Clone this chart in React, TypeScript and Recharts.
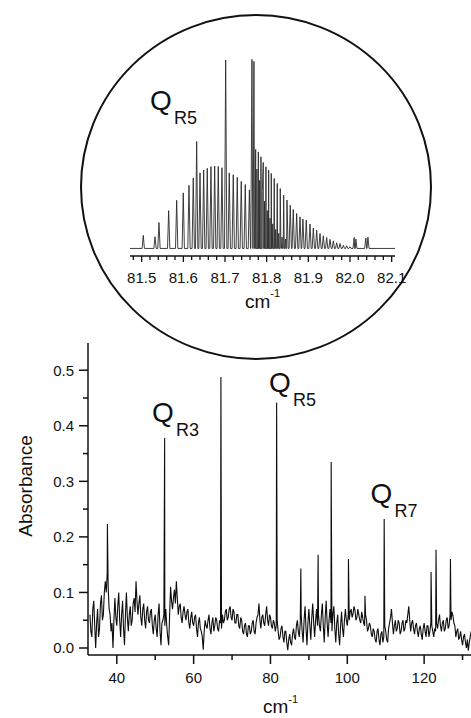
import React from 'react';
import { LineChart, Line, XAxis, YAxis } from 'recharts';

// ---------- Main spectrum (absorbance vs wavenumber) ----------
const mainNoiseStart = 33.0;
const mainNoiseStep = 0.5;
// values at 33.0, 33.5, 34.0, ...
const mainNoise = [
  0.06, 0.02, 0.085, 0.0, 0.07, 0.035, 0.095, 0.06, 0.12, 0.135,
  0.07, 0.03, 0.0, 0.09, 0.04, 0.1, 0.02, 0.085, 0.005, 0.1,
  0.03, 0.075, 0.05, 0.09, 0.12, 0.06, 0.095, 0.04, 0.08, 0.035,
  0.075, 0.045, 0.07, 0.025, 0.06, 0.02, 0.08, 0.005, 0.05, 0.04,
  0.04, 0.005, 0.11, 0.07, 0.105, 0.12, 0.06, 0.08, 0.045, 0.075,
  0.05, 0.07, 0.035, 0.065, 0.04, 0.06, 0.02, 0.055, 0.03, -0.003,
  0.05, 0.035, 0.06, 0.025, 0.055, 0.04, 0.05, 0.03, 0.045, 0.06,
  0.05, 0.07, 0.055, 0.075, 0.05, 0.065, 0.045, 0.06, 0.035, 0.05,
  0.025, 0.045, 0.02, 0.04, 0.03, 0.05, 0.025, 0.055, 0.08, 0.035,
  0.06, 0.04, 0.075, 0.04, 0.055, 0.035, 0.045, 0.04, 0.03, 0.02,
  0.04, 0.01, 0.03, -0.004, 0.025, 0.005, 0.035, 0.015, 0.05, 0.02,
  0.06, 0.01, 0.075, 0.005, 0.07, 0.015, 0.08, 0.02, 0.07, 0.06,
  0.03, 0.08, 0.01, 0.085, 0.02, 0.07, 0.03, 0.075, 0.01, 0.06,
  0.005, 0.065, 0.02, 0.07, 0.04, 0.05, 0.07, 0.062, 0.068, 0.055,
  0.06, 0.045, 0.055, 0.04, 0.05, 0.035, 0.04, 0.02, 0.03, 0.01,
  0.035, 0.005, 0.03, 0.02, 0.03, 0.01, 0.045, 0.07, 0.025, 0.05,
  0.035, 0.045, 0.03, 0.05, 0.035, 0.045, 0.075, 0.03, 0.05, 0.025,
  0.045, 0.02, 0.04, 0.015, 0.045, 0.02, 0.04, 0.03, 0.04, 0.02,
  0.03, 0.035, 0.06, 0.03, 0.05, 0.035, 0.055, 0.04, 0.05, 0.058,
  0.04, 0.03, 0.015, 0.03, 0.005, 0.025, 0.0, -0.005, 0.02, 0.025,
];
// values at 33.25, 33.75, 34.25, ...
const mainNoiseMidStart = 33.25;
const mainNoiseMid = [
  0.03, 0.07, 0.04, 0.045, 0.02, 0.08, 0.05, 0.1, 0.1, 0.11,
  0.06, 0.045, 0.05, 0.055, 0.075, 0.05, 0.06, 0.035, 0.06, 0.055,
  0.06, 0.04, 0.08, 0.065, 0.085, 0.08, 0.055, 0.07, 0.05, 0.065,
  0.05, 0.065, 0.04, 0.05, 0.035, 0.06, 0.03, 0.045, 0.06, 0.07,
  0.02, 0.06, 0.085, 0.09, 0.08, 0.09, 0.075, 0.055, 0.065, 0.06,
  0.065, 0.045, 0.055, 0.045, 0.055, 0.035, 0.045, 0.035, 0.02, 0.03,
  0.04, 0.05, 0.035, 0.045, 0.03, 0.055, 0.035, 0.05, 0.035, 0.045,
  0.065, 0.05, 0.07, 0.055, 0.07, 0.045, 0.06, 0.04, 0.055, 0.03,
  0.04, 0.025, 0.04, 0.025, 0.045, 0.03, 0.045, 0.06, 0.05, 0.055,
  0.045, 0.06, 0.05, 0.06, 0.04, 0.05, 0.03, 0.05, 0.015, 0.035,
  0.02, 0.03, 0.01, 0.015, 0.01, 0.025, 0.02, 0.04, 0.03, 0.045,
  0.03, 0.05, 0.035, 0.045, 0.04, 0.055, 0.045, 0.05, 0.04, 0.04,
  0.06, 0.04, 0.055, 0.045, 0.05, 0.045, 0.06, 0.035, 0.045, 0.025,
  0.04, 0.035, 0.05, 0.05, 0.06, 0.065, 0.055, 0.075, 0.05, 0.07,
  0.05, 0.065, 0.045, 0.06, 0.03, 0.045, 0.025, 0.035, 0.015, 0.03,
  0.015, 0.025, 0.01, 0.04, 0.015, 0.035, 0.055, 0.045, 0.04, 0.03,
  0.05, 0.025, 0.045, 0.03, 0.05, 0.06, 0.05, 0.045, 0.035, 0.04,
  0.03, 0.035, 0.025, 0.035, 0.03, 0.04, 0.02, 0.045, 0.03, 0.035,
  0.045, 0.05, 0.04, 0.045, 0.03, 0.05, 0.035, 0.06, 0.065, 0.045,
  0.02, 0.035, 0.02, 0.015, 0.02, 0.01, 0.015, 0.01, 0.03, 0.015,
];
const mainPeakX = [37.55, 52.45, 67.1, 81.6, 87.9, 92.4, 95.8, 100.3, 104.6, 109.6, 121.8, 123.1, 126.85];
const mainPeakY = [0.223, 0.378, 0.488, 0.442, 0.143, 0.168, 0.335, 0.16, 0.094, 0.232, 0.137, 0.177, 0.16];

const mainXMajor = [40, 60, 80, 100, 120];
const mainXTicks = [40, 50, 60, 70, 80, 90, 100, 110, 120, 130];
const mainYTicks = [0, 0.05, 0.1, 0.15, 0.2, 0.25, 0.3, 0.35, 0.4, 0.45, 0.5];
const mainXDomain = [32.5, 132.2];
const mainYDomain = [-0.0126, 0.549];

// ---------- Inset: Q_R5 band ----------
const insetPeakX = [
  81.5038, 81.532, 81.5415, 81.5648, 81.584, 81.5998, 81.6135, 81.6238, 81.632, 81.64,
  81.6488, 81.6574, 81.6663, 81.6752, 81.6838, 81.6927, 81.7016, 81.7102, 81.7198, 81.7294,
  81.739, 81.7486, 81.7585, 81.7647, 81.7695,
  81.7736, 81.78, 81.7863, 81.7918, 81.7983, 81.8048, 81.811, 81.8182, 81.8254, 81.8326,
  81.8408, 81.8487, 81.8566, 81.8638, 81.872, 81.88, 81.887, 81.895, 81.904, 81.912,
  81.92, 81.928, 81.936, 81.944, 81.952, 81.96, 81.968, 81.976, 81.984, 81.992, 82.0,
  82.01, 82.014, 82.038, 82.043,
];
const insetPeakH = [
  0.069, 0.062, 0.137, 0.2, 0.255, 0.294, 0.334, 0.373, 0.566, 0.4,
  0.415, 0.424, 0.433, 0.436, 0.434, 0.427, 0.997, 0.4, 0.39, 0.376,
  0.355, 0.338, 0.31, 1.0, 0.99,
  0.524, 0.511, 0.485, 0.455, 0.432, 0.414, 0.397, 0.37, 0.344, 0.317,
  0.282, 0.256, 0.229, 0.206, 0.185, 0.167, 0.155, 0.15, 0.129, 0.108,
  0.097, 0.079, 0.067, 0.058, 0.048, 0.04, 0.03, 0.026, 0.017, 0.014, 0.009,
  0.058, 0.05, 0.055, 0.06,
];
const insetComb2X = [81.7765, 81.7832, 81.7895, 81.795, 81.8015, 81.808, 81.8145, 81.8215, 81.829, 81.837, 81.845];
const insetComb2H = [0.42, 0.36, 0.3, 0.25, 0.2, 0.16, 0.13, 0.1, 0.08, 0.06, 0.05];
const insetHalfWidth = 0.0028;
const insetXMajor = [81.5, 81.6, 81.7, 81.8, 81.9, 82.0, 82.1];
const insetXDomain = [81.472, 82.108];
const insetYDomain = [-0.04, 1.05];

// ---------- build tables ----------
const mainData = (() => {
  const pts = mainNoise.map((v, i) => ({ x: mainNoiseStart + i * mainNoiseStep, y: v }));
  mainNoiseMid.forEach((v, i) => pts.push({ x: mainNoiseMidStart + i * mainNoiseStep, y: v }));
  mainPeakX.forEach((x, i) => pts.push({ x, y: mainPeakY[i] }));
  pts.sort((a, b) => a.x - b.x);
  return pts;
})();

const insetData = (() => {
  const pts: { x: number; y: number }[] = [];
  pts.push({ x: insetXDomain[0], y: 0 });
  const add = (xs: number[], hs: number[]) => {
    xs.forEach((x, i) => {
      pts.push({ x: x - insetHalfWidth, y: 0 });
      pts.push({ x, y: hs[i] });
      pts.push({ x: x + insetHalfWidth, y: 0 });
    });
  };
  add(insetPeakX, insetPeakH);
  add(insetComb2X, insetComb2H);
  pts.push({ x: insetXDomain[1], y: 0 });
  pts.sort((a, b) => a.x - b.x);
  return pts;
})();

const insetTicks = (() => {
  const t: number[] = [];
  for (let k = 0; k <= 31; k++) t.push(Math.round((81.48 + k * 0.02) * 100) / 100);
  return t;
})();

const FONT = '"Liberation Sans", Arial, Helvetica, sans-serif';
const INK = '#111';

const MainXTick = (props: any) => {
  const { x, y, payload } = props;
  const v = payload.value;
  const major = mainXMajor.includes(v);
  return (
    <g>
      <line x1={x} x2={x} y1={y} y2={y + (major ? 9 : 5)} stroke={INK} strokeWidth={1.5} />
      {major && (
        <text x={x} y={y + 28} textAnchor="middle" fontSize={15} fontFamily={FONT} fill={INK}>
          {v}
        </text>
      )}
    </g>
  );
};

const MainYTick = (props: any) => {
  const { x, y, payload } = props;
  const v = payload.value;
  const major = Math.abs(v * 10 - Math.round(v * 10)) < 1e-6;
  return (
    <g>
      <line x1={x - (major ? 9 : 5)} x2={x} y1={y} y2={y} stroke={INK} strokeWidth={1.5} />
      {major && (
        <text x={x - 14} y={y} dy="0.36em" textAnchor="end" fontSize={15} fontFamily={FONT} fill={INK}>
          {v.toFixed(1)}
        </text>
      )}
    </g>
  );
};

const InsetXTick = (props: any) => {
  const { x, y, payload } = props;
  const v = payload.value;
  const major = insetXMajor.some((m) => Math.abs(m - v) < 1e-6);
  return (
    <g>
      <line x1={x} x2={x} y1={y} y2={y + (major ? 6 : 4)} stroke={INK} strokeWidth={1.3} />
      {major && (
        <text x={x} y={y + 27} textAnchor="middle" fontSize={15} fontFamily={FONT} fill={INK}>
          {v.toFixed(1)}
        </text>
      )}
    </g>
  );
};

const QLabel = ({ x, y, sub }: { x: number; y: number; sub: string }) => (
  <g fontFamily={FONT} fill={INK}>
    <text x={x} y={y} fontSize={28}>Q</text>
    <text x={x + 24} y={y + 14} fontSize={18}>{sub}</text>
  </g>
);

export default function App() {
  return (
    <div style={{ position: 'absolute', left: 0, top: 0, width: 471, height: 718, background: '#fff', overflow: 'hidden' }}>
      <div style={{ position: 'absolute', left: 0, top: 0 }}>
        <LineChart width={471} height={718} data={mainData} margin={{ top: 343, right: 0, bottom: 0, left: 0 }}>
          <XAxis
            type="number"
            dataKey="x"
            domain={mainXDomain}
            allowDataOverflow
            ticks={mainXTicks}
            interval={0}
            tickSize={0}
            tickMargin={0}
            tickLine={false}
            tick={MainXTick}
            height={63}
            axisLine={{ stroke: INK, strokeWidth: 1.5 }}
          />
          <YAxis
            type="number"
            domain={mainYDomain}
            allowDataOverflow
            ticks={mainYTicks}
            interval={0}
            tickSize={0}
            tickMargin={0}
            tickLine={false}
            tick={MainYTick}
            width={88}
            axisLine={{ stroke: INK, strokeWidth: 1.5 }}
          />
          <Line type="linear" dataKey="y" stroke="#0d0d0d" strokeWidth={1.1} dot={false} isAnimationActive={false} />
        </LineChart>
      </div>
      <div style={{ position: 'absolute', left: 0, top: 0 }}>
        <LineChart width={471} height={320} data={insetData} margin={{ top: 50, right: 76, bottom: 0, left: 130 }}>
          <XAxis
            type="number"
            dataKey="x"
            domain={insetXDomain}
            allowDataOverflow
            ticks={insetTicks}
            interval={0}
            tickSize={0}
            tickMargin={0}
            tickLine={false}
            tick={InsetXTick}
            height={64}
            axisLine={{ stroke: INK, strokeWidth: 1.5 }}
          />
          <YAxis type="number" domain={insetYDomain} allowDataOverflow hide />
          <Line type="linear" dataKey="y" stroke="#2a2a2a" strokeWidth={0.9} dot={false} isAnimationActive={false} />
        </LineChart>
      </div>
      <svg width={471} height={718} style={{ position: 'absolute', left: 0, top: 0, pointerEvents: 'none' }}>
        <ellipse cx={256} cy={187} rx={175} ry={172} fill="none" stroke={INK} strokeWidth={2} />
        <QLabel x={150} y={110} sub="R5" />
        <QLabel x={152} y={421.5} sub="R3" />
        <QLabel x={269} y={391.5} sub="R5" />
        <QLabel x={370.5} y={503} sub="R7" />
        <text x={245} y={308} fontSize={19} fontFamily={FONT} fill={INK}>
          cm<tspan dy={-11} fontSize={11}>-1</tspan>
        </text>
        <text x={263} y={713} fontSize={19} fontFamily={FONT} fill={INK}>
          cm<tspan dy={-10} fontSize={11}>-1</tspan>
        </text>
        <text transform="translate(32,486) rotate(-90)" textAnchor="middle" fontSize={19} fontFamily={FONT} fill={INK}>
          Absorbance
        </text>
      </svg>
    </div>
  );
}
